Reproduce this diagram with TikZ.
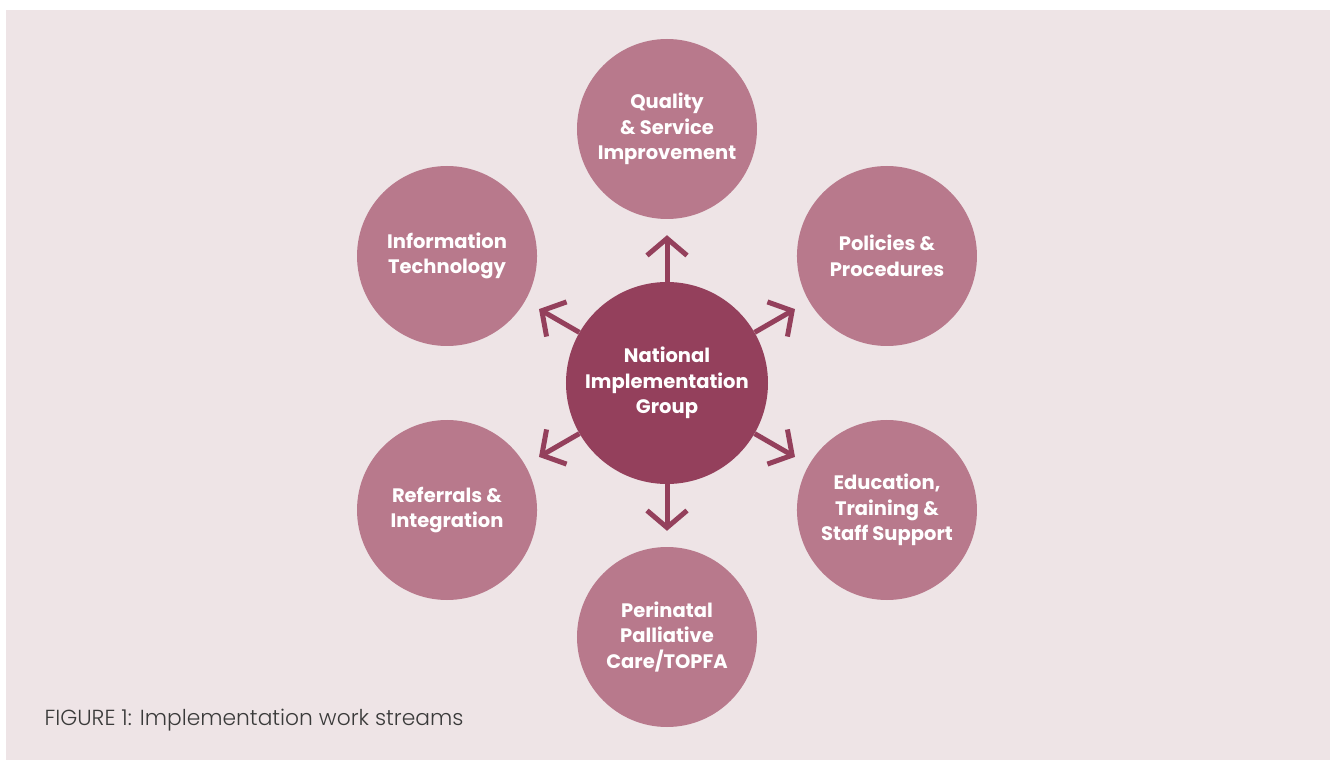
\documentclass[tikz,border=0pt]{standalone}
\usepackage{fontspec}
\setmainfont{Poppins}
\newfontfamily\captionfont{Poppins}[UprightFont=* Light]
\definecolor{panelpink}{HTML}{EEE4E6}
\definecolor{plum}{HTML}{94405C}
\definecolor{rose}{HTML}{B8798C}
\definecolor{captiongray}{HTML}{3A3A3A}
\usepackage{tikz}
\usetikzlibrary{arrows.meta}

\begin{document}
\begin{tikzpicture}[
  x=1pt, y=1pt,
  hub/.style={
    circle, fill=plum, minimum size=202pt, inner sep=0pt,
    text=white, align=center, font=\bfseries\fontsize{19.5}{25.5}\selectfont
  },
  stream/.style={
    circle, fill=rose, minimum size=180pt, inner sep=0pt,
    text=white, align=center, font=\bfseries\fontsize{19.5}{25.5}\selectfont
  },
  arrow/.style={
    draw=plum, line width=5pt, shorten >=16pt,
    -{Straight Barb[length=17pt, width=40pt, line width=5pt]}
  }
]
\useasboundingbox (-667,-377) rectangle (663,383);
\fill[panelpink] (-661,-377) rectangle (663,373);

\node[hub] (nig) at (0,0) {National\\Implementation\\Group};
\node[stream] (qsi) at (90:254) {Quality\\\& Service\\Improvement};
\node[stream] (pol) at (30:254) {Policies \&\\Procedures};
\node[stream] (edu) at (-30:254) {Education,\\Training \&\\Staff Support};
\node[stream] (ppc) at (-90:254) {Perinatal\\Palliative\\Care/TOPFA};
\node[stream] (ref) at (210:254) {Referrals \&\\Integration};
\node[stream] (ict) at (150:254) {Information\\Technology};

\foreach \ws in {qsi,pol,edu,ppc,ref,ict}
  \draw[arrow] (nig) -- (\ws);

\node[anchor=base west, text=captiongray, font=\captionfont\fontsize{21.8}{26}\selectfont]
  (cap) at (-626,-342) {FIGURE 1: Implementation work streams};
\end{tikzpicture}
\end{document}
